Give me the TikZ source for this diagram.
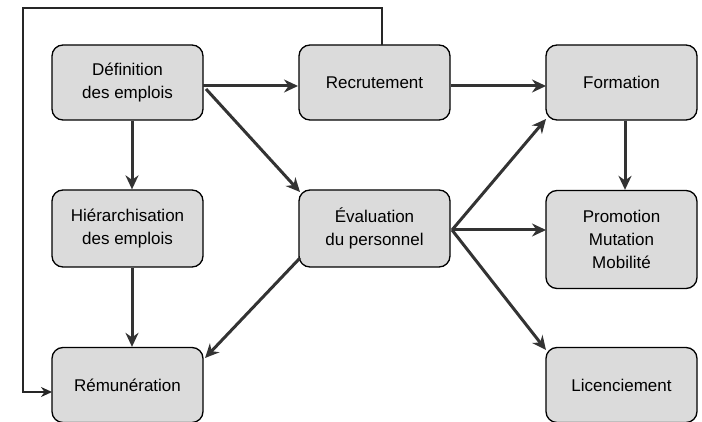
\documentclass[tikz,border=0pt]{standalone}
\usepackage{fontspec}
\setmainfont{Liberation Sans}
\usetikzlibrary{arrows.meta}
\begin{document}
\begin{tikzpicture}[x=1pt,y=-1pt,
  box/.style={draw=black, line width=1.3pt, fill=black!14, rounded corners=11pt,
    minimum width=151pt, align=center, font=\fontsize{17}{23}\selectfont, inner sep=0pt},
  arr/.style={draw=black!80, line width=3pt, -{Stealth[length=14pt,width=13pt]}},
  ln/.style={draw=black!85, line width=2pt}]
\useasboundingbox (0,0) rectangle (702,422);
\node[box, minimum height=75pt] (def) at (127.5,82.5) {Définition\\des emplois};
\node[box, minimum height=75pt] (rec) at (374.5,82.5) {Recrutement};
\node[box, minimum height=75pt] (form) at (621.5,82.5) {Formation};
\node[box, minimum height=77pt] (hier) at (127.5,228.5) {Hiérarchisation\\des emplois};
\node[box, minimum height=77pt] (eval) at (374.5,228.5) {Évaluation\\du personnel};
\node[box, minimum height=98pt] (prom) at (621.5,239.5) {Promotion\\Mutation\\Mobilité};
\node[box, minimum height=75pt] (rem) at (127.5,385) {Rémunération};
\node[box, minimum height=75pt] (lic) at (621.5,385) {Licenciement};
% coordinates
\coordinate (defR) at (203,86);
\coordinate (defC) at (206,89);
\coordinate (recL) at (298,86);
\coordinate (recR) at (451,86);
\coordinate (formL) at (546,86);
\coordinate (formBL) at (546,119);
\coordinate (evalTL) at (300,192);
\coordinate (evalR) at (452,230);
\coordinate (evalBL) at (300,258);
\coordinate (remTR) at (205,358);
\coordinate (promL) at (546,230);
\coordinate (licTL) at (546,350);
\coordinate (recT) at (382,45);
\coordinate (loop1) at (382,8);
\coordinate (loop2) at (23,8);
\coordinate (loop3) at (23,392);
\coordinate (remL) at (52,392);
\draw[arr] (defR) -- (recL);
\draw[arr] (defC) -- (evalTL);
\draw[arr] (def.south -| 132,0) -- (hier.north -| 132,0);
\draw[arr] (hier.south -| 132,0) -- (rem.north -| 132,0);
\draw[arr] (evalBL) -- (remTR);
\draw[arr] (recR) -- (formL);
\draw[arr] (evalR) -- (formBL);
\draw[arr] (evalR) -- (promL);
\draw[arr] (evalR) -- (licTL);
\draw[arr] (form.south -| 625,0) -- (prom.north -| 625,0);
\draw[ln, -{Stealth[length=11pt,width=10pt]}] (recT) -- (loop1) -- (loop2) -- (loop3) -- (remL);
\end{tikzpicture}
\end{document}
